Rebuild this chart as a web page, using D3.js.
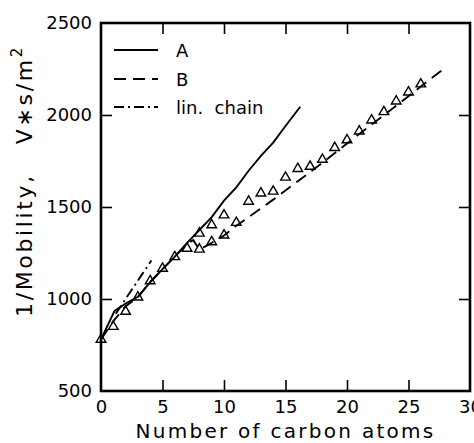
<!DOCTYPE html>
<html>
<head>
<meta charset="utf-8">
<script src="https://cdn.jsdelivr.net/npm/d3@7"></script>
<style>
  body { margin: 0; background: #ffffff; }
  text { font-family: "DejaVu Sans", sans-serif; fill: #000000; }
</style>
</head>
<body>
<script>
// measured triangles
let carbons = [0, 1, 2, 3, 4, 5, 6, 7, 8, 8, 9, 9, 10, 10, 11, 12, 13, 14,
               15, 16, 17, 18, 19, 20, 21, 22, 23, 24, 25, 26];
let invMobility = [780, 850, 932, 1010, 1098, 1166, 1229, 1275, 1270, 1357,
                   1310, 1402, 1347, 1456, 1415, 1530, 1575, 1585, 1661, 1708,
                   1720, 1758, 1822, 1864, 1912, 1972, 2017, 2075, 2124, 2168];

// curve A (solid)
let curveAx = [0, 1.1, 2, 3, 4, 5, 6, 7, 8, 9, 10, 11, 12, 13, 14, 15, 16.2];
let curveAy = [780, 935, 975, 1012, 1092, 1162, 1230, 1305, 1375, 1445,
               1535, 1607, 1697, 1778, 1850, 1940, 2045];

// curve B (dashed)
let curveBx = [0, 1, 2, 3, 4, 5, 6, 7, 7.5, 8, 9, 10, 11, 12, 14, 16, 18,
               20, 22, 24, 26, 28];
let curveBy = [780, 880, 960, 1010, 1092, 1162, 1230, 1300, 1320, 1268, 1305,
               1345, 1398, 1445, 1540, 1640, 1740, 1845, 1948, 2050, 2155, 2258];

// linear chain (dash-dot)
let chainX = [1.2, 4.1];
let chainY = [920, 1210];

let xTicks = [0, 5, 10, 15, 20, 25, 30];
let yTicks = [500, 1000, 1500, 2000, 2500];
let legendNames = ["A", "B", "lin.  chain"];


/**
 * Draws the whole figure.
 */
function main() {
    let w = 474;
    let h = 443;
    let margins = {top: 23, bottom: 52, left: 101, right: 4};
    let dims = {w: w, h: h, margins: margins,
                width: w - margins.left - margins.right,
                height: h - margins.top - margins.bottom};

    let svg = d3.select("body")
                .append("svg")
                .attr("width", dims.w)
                .attr("height", dims.h);

    let x = d3.scaleLinear()
              .domain([0, 30])
              .range([margins.left, margins.left + dims.width]);
    let y = d3.scaleLinear()
              .domain([500, 2500])
              .range([margins.top + dims.height, margins.top]);

    makeAxes(svg, x, y, dims);
    makeCurves(svg, x, y);
    makeLegend(svg);
}


/**
 * Frame, inward ticks on all four sides, tick labels and axis titles.
 */
function makeAxes(svg, x, y, dims) {
    let m = dims.margins;
    let tick = 11;

    let bottom = svg.append("g")
                    .attr("transform", "translate(0," + (m.top + dims.height) + ")")
                    .call(d3.axisBottom(x).tickValues(xTicks)
                            .tickFormat(d3.format("d"))
                            .tickSize(-tick).tickPadding(9));
    let left = svg.append("g")
                  .attr("transform", "translate(" + m.left + ",0)")
                  .call(d3.axisLeft(y).tickValues(yTicks)
                          .tickFormat(d3.format("d"))
                          .tickSize(-tick).tickPadding(9));
    let top = svg.append("g")
                 .attr("transform", "translate(0," + m.top + ")")
                 .call(d3.axisTop(x).tickValues(xTicks)
                         .tickSize(-tick).tickFormat(""));
    let right = svg.append("g")
                   .attr("transform", "translate(" + (m.left + dims.width) + ",0)")
                   .call(d3.axisRight(y).tickValues(yTicks)
                           .tickSize(-tick).tickFormat(""));

    [bottom, left, top, right].forEach(function(g) {
        g.select(".domain").remove();
        g.selectAll(".tick line")
         .attr("stroke", "#000")
         .attr("stroke-width", 1.6)
         .filter(function(d, i, n) { return i === 0 || i === n.length - 1; })
         .remove();
    });

    bottom.selectAll("text")
          .style("font-size", "18px")
          .style("font-family", "DejaVu Sans");
    left.selectAll("text")
        .style("font-size", "18px")
        .style("font-family", "DejaVu Sans");

    // frame
    svg.append("rect")
       .attr("x", m.left)
       .attr("y", m.top)
       .attr("width", dims.width)
       .attr("height", dims.height)
       .attr("fill", "none")
       .attr("stroke", "#000")
       .attr("stroke-width", 2.6);

    // x title
    let xt = svg.append("text")
                .attr("x", m.left + dims.width / 2)
                .attr("y", 438)
                .attr("text-anchor", "middle")
                .style("font-size", "20px")
                .style("white-space", "pre")
                .text("Number of carbon atoms");
    spread(xt, 300);

    // y title
    let yt = svg.append("text")
                .attr("transform", "translate(32,181) rotate(-90)")
                .attr("text-anchor", "middle")
                .style("font-size", "22px")
                .style("white-space", "pre");
    yt.append("tspan").text("1/Mobility,   V\u2217s/m");
    yt.append("tspan")
      .attr("dy", -10)
      .style("font-size", "15px")
      .text("2");
    spread(yt, 272);
}


/**
 * Widens letter spacing of a text until it spans the wanted length.
 */
function spread(sel, target) {
    let node = sel.node();
    let len = node.getComputedTextLength();
    let n = node.textContent.length;
    let extra = (target - len) / n;
    if (extra > 0) {
        sel.style("letter-spacing", extra + "px");
    }
}


/**
 * Model curves and measured points.
 */
function makeCurves(svg, x, y) {
    let line = d3.line()
                 .x(d => x(d[0]))
                 .y(d => y(d[1]));

    let curves = [
        {pts: d3.zip(curveAx, curveAy), dash: null},
        {pts: d3.zip(curveBx, curveBy), dash: "12,7"},
        {pts: d3.zip(chainX, chainY), dash: "10,4,2,4"}
    ];

    svg.append("g")
       .selectAll("path")
       .data(curves)
       .enter()
       .append("path")
       .attr("d", d => line(d.pts))
       .attr("fill", "none")
       .attr("stroke", "#000")
       .attr("stroke-width", 1.9)
       .attr("stroke-dasharray", d => d.dash);

    let tri = d3.symbol().type(d3.symbolTriangle).size(40);
    svg.append("g")
       .selectAll("path")
       .data(d3.zip(carbons, invMobility))
       .enter()
       .append("path")
       .attr("transform", d => "translate(" + x(d[0]) + "," + y(d[1]) + ")")
       .attr("d", tri)
       .attr("fill", "none")
       .attr("stroke", "#000")
       .attr("stroke-width", 1.4);
}


/**
 * Legend in the top left corner.
 */
function makeLegend(svg) {
    let dashes = [null, "12,7", "10,4,2,4"];
    let rows = [50, 79, 107];

    let g = svg.append("g");
    legendNames.forEach(function(name, i) {
        g.append("line")
         .attr("x1", 114)
         .attr("x2", 158)
         .attr("y1", rows[i])
         .attr("y2", rows[i])
         .attr("stroke", "#000")
         .attr("stroke-width", 1.9)
         .attr("stroke-dasharray", dashes[i]);
        g.append("text")
         .attr("x", 176)
         .attr("y", rows[i] + 7)
         .style("font-size", "18px")
         .style("white-space", "pre")
         .text(name);
    });
}

main();
</script>
</body>
</html>
